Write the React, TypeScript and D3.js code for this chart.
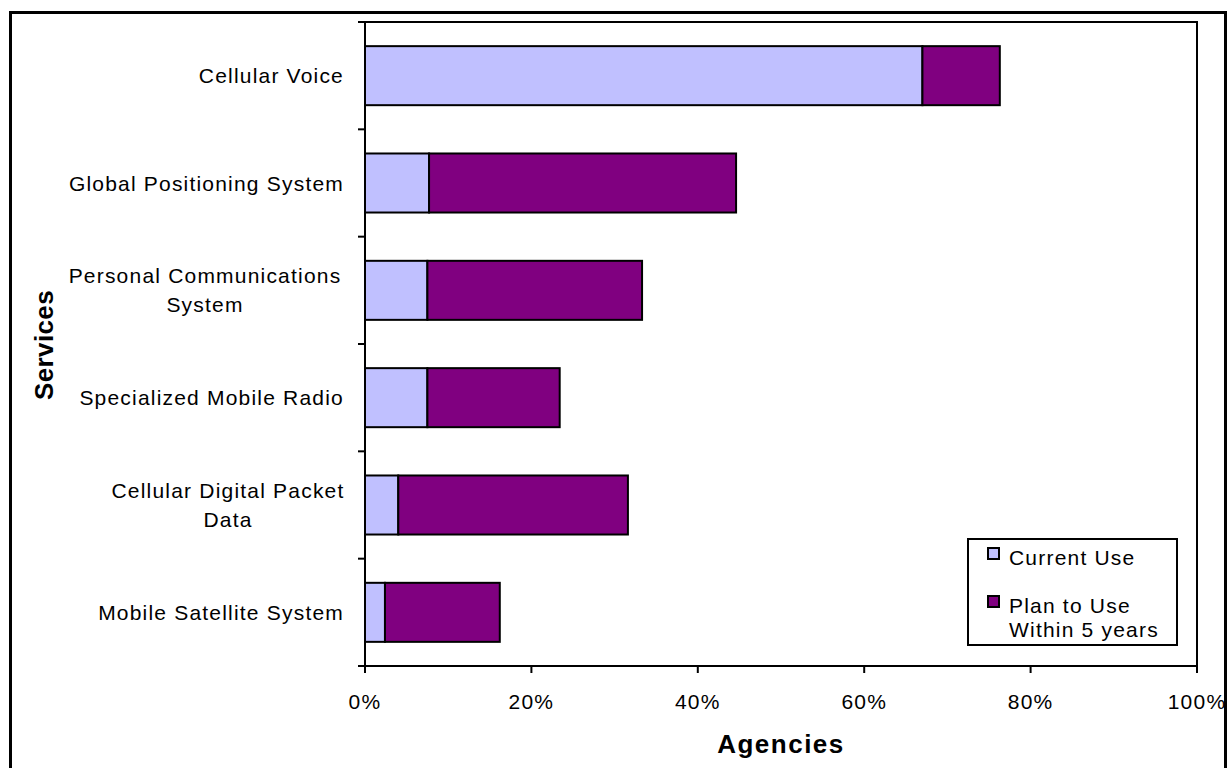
import React from "react";
import * as d3 from "d3";

const categories = [
  "Cellular Voice",
  "Global Positioning System",
  "Personal Communications System",
  "Specialized Mobile Radio",
  "Cellular Digital Packet Data",
  "Mobile Satellite System",
];
const categoryLines = [
  ["Cellular Voice"],
  ["Global Positioning System"],
  ["Personal Communications", "System"],
  ["Specialized Mobile Radio"],
  ["Cellular Digital Packet", "Data"],
  ["Mobile Satellite System"],
];
const currentUse = [67.0, 7.7, 7.5, 7.5, 4.0, 2.4];
const planToUse = [9.3, 36.9, 25.8, 15.9, 27.6, 13.8];
const seriesNames = ["Current Use", "Plan to Use Within 5 years"];
const legendLines = [["Current Use"], ["Plan to Use", "Within 5 years"]];
const colors = ["#C0C0FF", "#800080"];
const xTicks = [0, 20, 40, 60, 80, 100];

const W = 1229;
const H = 768;
const M = { left: 365, right: 1197, top: 22, bottom: 666 };
const FONT = "'Liberation Sans', Arial, sans-serif";
const FS = 21;
const LS = 1.2;

export default function App() {
  const x = d3.scaleLinear().domain([0, 100]).range([M.left, M.right]);
  const y = d3
    .scaleBand<string>()
    .domain(categories)
    .range([M.top, M.bottom])
    .paddingInner(0.45)
    .paddingOuter(0.225);

  const rows = categories.map((c, i) => ({ cat: c, cur: currentUse[i], plan: planToUse[i] }));
  const stack = d3.stack<any>().keys(["cur", "plan"]);
  const stacked = stack(rows);

  const step = y.step();
  const yTickPos = d3.range(categories.length + 1).map((i) => M.top + i * step);

  return (
    <div style={{ position: "absolute", left: 0, top: 0 }}>
      <svg width={W} height={H} style={{ display: "block", fontFamily: FONT }}>
        <rect x={0} y={0} width={W} height={H} fill="#fff" />
        {/* outer frame */}
        <rect x={10.5} y={12.5} width={1215} height={800} fill="none" stroke="#000" strokeWidth={3} />

        {/* bars */}
        {stacked.map((s, si) =>
          s.map((d, i) => (
            <rect
              key={`${si}-${i}`}
              x={x(d[0])}
              y={y(categories[i])}
              width={x(d[1]) - x(d[0])}
              height={y.bandwidth()}
              fill={colors[si]}
              stroke="#000"
              strokeWidth={2}
            />
          ))
        )}

        {/* plot border */}
        <rect
          x={M.left}
          y={M.top}
          width={M.right - M.left}
          height={M.bottom - M.top}
          fill="none"
          stroke="#000"
          strokeWidth={2}
        />

        {/* y ticks */}
        {yTickPos.map((p, i) => (
          <line key={i} x1={M.left - 7} x2={M.left} y1={p} y2={p} stroke="#000" strokeWidth={2} />
        ))}
        {/* x ticks */}
        {xTicks.map((t) => (
          <g key={t}>
            <line x1={x(t)} x2={x(t)} y1={M.bottom} y2={M.bottom + 7} stroke="#000" strokeWidth={2} />
            <text x={x(t)} y={709} textAnchor="middle" fontSize={FS} letterSpacing={LS} fill="#000">
              {t}%
            </text>
          </g>
        ))}

        {/* category labels */}
        {categoryLines.map((lines, i) => {
          const cy = (y(categories[i]) as number) + y.bandwidth() / 2;
          const lh = 29;
          return (
            <g key={i}>
              {lines.map((ln, j) => (
                <text
                  key={j}
                  x={lines.length > 1 ? 205 + (i === 4 ? 23 : 0) : 344}
                  y={cy + (j - (lines.length - 1) / 2) * lh + 7.5}
                  textAnchor={lines.length > 1 ? "middle" : "end"}
                  fontSize={FS}
                  letterSpacing={LS}
                  fill="#000"
                >
                  {ln}
                </text>
              ))}
            </g>
          );
        })}

        {/* axis titles */}
        <text x={781} y={753} textAnchor="middle" fontSize={26} fontWeight="bold" letterSpacing={1.5} fill="#000">
          Agencies
        </text>
        <text
          transform={`translate(53,345) rotate(-90)`}
          textAnchor="middle"
          fontSize={26}
          fontWeight="bold"
          letterSpacing={0.4}
          fill="#000"
        >
          Services
        </text>

        {/* legend */}
        <rect x={968} y={539} width={209} height={106} fill="#fff" stroke="#000" strokeWidth={2} />
        {seriesNames.map((s, i) => {
          const sy = 548 + i * 48;
          return (
            <g key={s}>
              <rect x={988} y={sy} width={11} height={11} fill={colors[i]} stroke="#000" strokeWidth={2} />
              {legendLines[i].map((ln, j) => (
                <text key={j} x={1009} y={sy + 17 + j * 24} fontSize={FS} letterSpacing={LS} fill="#000">
                  {ln}
                </text>
              ))}
            </g>
          );
        })}
      </svg>
    </div>
  );
}
